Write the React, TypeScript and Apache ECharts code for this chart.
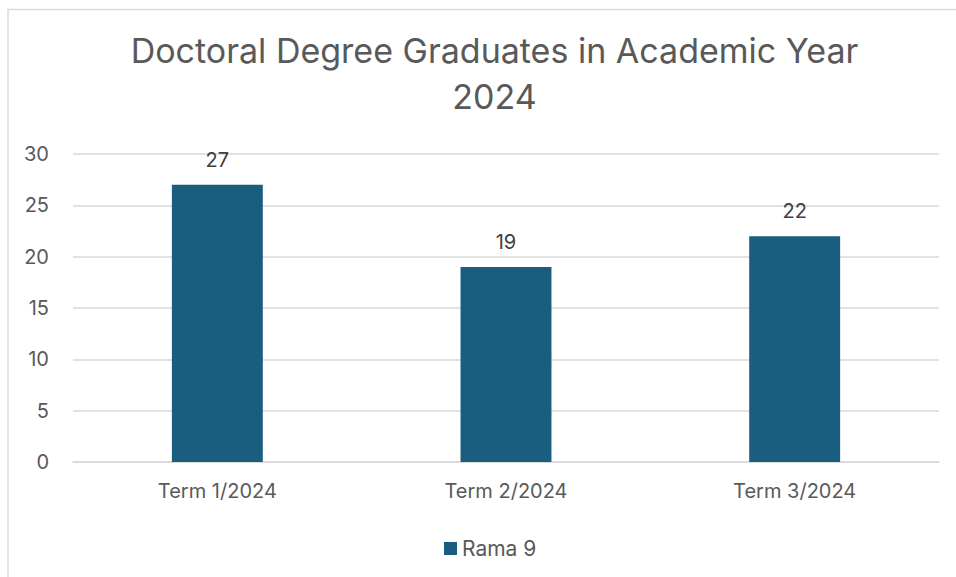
import React, { useEffect, useRef } from "react";
import * as echarts from "echarts";

const categories = ["Term 1/2024", "Term 2/2024", "Term 3/2024"];
const seriesName = "Rama 9";
const values = [27, 19, 22];
const titleLines = ["Doctoral Degree Graduates in Academic Year", "2024"];

const FONT = "Inter, 'Liberation Sans', Arial, sans-serif";
const TEXT = "#595959";

export default function App() {
  const ref = useRef<HTMLDivElement>(null);
  useEffect(() => {
    if (!ref.current) return;
    const chart = echarts.init(ref.current, undefined, { renderer: "svg" });
    chart.setOption({
      animation: false,
      backgroundColor: "#ffffff",
      textStyle: { fontFamily: FONT },
      graphic: [
        {
          type: "rect",
          shape: { x: 8, y: 9.5, width: 1200, height: 1200 },
          style: { fill: "none", stroke: "#d9d9d9", lineWidth: 1.5 },
          silent: true,
        },
      ],
      title: {
        text: titleLines.join("\n"),
        left: 489.5,
        textAlign: "center",
        top: 22,
        textStyle: {
          fontFamily: FONT,
          fontSize: 34,
          fontWeight: "normal",
          color: TEXT,
          lineHeight: 46,
        },
      },
      legend: {
        data: [seriesName],
        left: 439,
        top: 533,
        icon: "rect",
        itemWidth: 13,
        itemHeight: 13,
        itemGap: 6,
        textStyle: { fontFamily: FONT, fontSize: 21, color: TEXT },
      },
      grid: { left: 73, right: 17, top: 154, bottom: 115, containLabel: false },
      xAxis: {
        type: "category",
        data: categories,
        axisLine: { lineStyle: { color: "#d9d9d9", width: 1.5 } },
        axisTick: { show: false },
        axisLabel: { color: TEXT, fontSize: 20, fontFamily: FONT, margin: 19 },
      },
      yAxis: {
        type: "value",
        min: 0,
        max: 30,
        interval: 5,
        axisLine: { show: false },
        axisTick: { show: false },
        splitLine: { lineStyle: { color: "#d9d9d9", width: 1.5 } },
        axisLabel: { color: TEXT, fontSize: 20, fontFamily: FONT, margin: 24 },
      },
      series: [
        {
          name: seriesName,
          type: "bar",
          data: values,
          barWidth: "31.5%",
          itemStyle: { color: "#1a5e7f" },
          label: {
            show: true,
            position: "top",
            distance: 15,
            color: "#404040",
            fontSize: 20,
            fontFamily: FONT,
          },
        },
      ],
    });
    return () => chart.dispose();
  }, []);
  return (
    <div
      ref={ref}
      style={{ position: "fixed", left: 0, top: 0, width: 956, height: 577 }}
    />
  );
}
